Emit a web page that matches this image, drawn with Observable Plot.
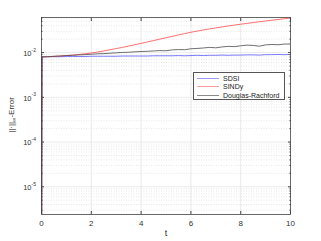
<!DOCTYPE html>
<html><head><meta charset="utf-8">
<script src="https://cdn.jsdelivr.net/npm/d3@7"></script>
<script src="https://cdn.jsdelivr.net/npm/@observablehq/plot@0.6"></script>
<style>
body{margin:0;background:#fff;font-family:"Liberation Sans",Arial,sans-serif;}
#wrap{position:relative;width:321px;height:241px;}
#legend{position:absolute;left:193px;top:72px;width:92px;height:28px;border:1px solid #555;background:#fff;font-size:7px;color:#222;box-sizing:border-box;padding-top:1px;white-space:nowrap;}
#legend div{display:flex;align-items:center;height:8.6px;}
#legend span.l{display:inline-block;width:22px;height:0;border-top:1px solid;margin:0 4px 0 3px;}
</style>
</head><body><div id="wrap"><div id="legend"></div></div>
<script>
const t = [0, 0.02, 0.25, 0.5, 0.75, 1, 1.25, 1.5, 1.75, 2, 2.25, 2.5, 2.75, 3, 3.25, 3.5, 3.75, 4, 4.25, 4.5, 4.75, 5, 5.25, 5.5, 5.75, 6, 6.25, 6.5, 6.75, 7, 7.25, 7.5, 7.75, 8, 8.25, 8.5, 8.75, 9, 9.25, 9.5, 9.75, 10];
const sdsi = [1e-8, 0.0081, 0.0081, 0.0081, 0.0081, 0.0082, 0.0082, 0.0082, 0.0082, 0.0083, 0.0083, 0.0083, 0.0083, 0.0083, 0.0084, 0.0084, 0.0084, 0.0084, 0.0084, 0.0085, 0.0085, 0.0085, 0.0085, 0.0086, 0.0085, 0.0086, 0.0087, 0.0086, 0.0087, 0.0087, 0.0088, 0.0087, 0.0088, 0.0088, 0.0089, 0.0089, 0.0088, 0.0090, 0.0090, 0.0091, 0.0090, 0.0091];
const sindy = [1e-8, 0.0080, 0.0081, 0.0082, 0.0084, 0.0086, 0.0088, 0.0091, 0.0094, 0.0098, 0.0103, 0.0109, 0.0116, 0.0123, 0.0131, 0.0140, 0.0150, 0.0161, 0.0173, 0.0186, 0.0200, 0.0215, 0.0231, 0.0248, 0.0266, 0.0285, 0.0303, 0.0321, 0.0339, 0.0357, 0.0375, 0.0394, 0.0413, 0.0432, 0.0451, 0.0470, 0.0490, 0.0510, 0.0530, 0.0550, 0.0572, 0.0595];
const dr = [1e-8, 0.0080, 0.0081, 0.0083, 0.0084, 0.0086, 0.0087, 0.0089, 0.0090, 0.0092, 0.0094, 0.0095, 0.0097, 0.0099, 0.0101, 0.0102, 0.0104, 0.0106, 0.0107, 0.0109, 0.0111, 0.0110, 0.0115, 0.0117, 0.0116, 0.0122, 0.0124, 0.0127, 0.0131, 0.0128, 0.0134, 0.0138, 0.0136, 0.0142, 0.0147, 0.0145, 0.0139, 0.0149, 0.0152, 0.0150, 0.0155, 0.0156];
const seriesNames = ["SDSI", "SINDy", "Douglas-Rachford"];
const seriesColors = ["#5b5bff", "#ff4a4a", "#4a4a4a"];
const legendColors = ["#9a9aff", "#ff9a9a", "#8a8a8a"];
const xTicks = [0, 2, 4, 6, 8, 10];
const yMajor = [1e-5, 1e-4, 1e-3, 1e-2];
const yExponents = ["-5", "-4", "-3", "-2"];

const yMinor = [];
for (let e = -6; e <= -2; e++) for (let m = 2; m <= 9; m++) { const v = m * 10 ** e; if (v > 2.4e-6 && v < 0.061) yMinor.push(v); }

const rows = [];
[sdsi, sindy, dr].forEach((arr, i) => arr.forEach((v, j) => rows.push({t: t[j], v, s: seriesNames[i]})));

const plot = Plot.plot({
  width: 321, height: 241,
  marginLeft: 41, marginRight: 31, marginTop: 17, marginBottom: 27,
  style: {fontFamily: "Liberation Sans, Arial, sans-serif", fontSize: "8px", color: "#333"},
  x: {domain: [0, 10], label: null},
  y: {type: "log", domain: [2.4e-6, 0.061], label: null},
  color: {domain: seriesNames, range: seriesColors},
  marks: [
    Plot.ruleY(yMinor, {stroke: "#d8d8d8", strokeDasharray: "1,1.5", strokeWidth: 0.6}),
    Plot.ruleY(yMajor, {stroke: "#e4e4e4", strokeWidth: 0.8}),
    Plot.ruleX(xTicks.slice(1, -1), {stroke: "#e4e4e4", strokeWidth: 0.8}),
    Plot.line(rows, {x: "t", y: "v", z: "s", stroke: "s", strokeWidth: 0.8, clip: true}),
    Plot.axisX(xTicks, {anchor: "bottom", tickSize: -3, tickPadding: 9, stroke: "#444", fill: "#333"}),
    Plot.axisX(xTicks, {anchor: "top", tickSize: -3, text: null, stroke: "#444"}),
    Plot.axisY(yMajor, {anchor: "left", tickSize: -3, text: null, stroke: "#444"}),
    Plot.axisY(yMajor, {anchor: "right", tickSize: -3, text: null, stroke: "#444"}),
    Plot.axisY(yMinor, {anchor: "left", tickSize: -1.5, text: null, stroke: "#444"}),
    Plot.axisY(yMinor, {anchor: "right", tickSize: -1.5, text: null, stroke: "#444"}),
    Plot.text(yMajor, {y: d => d, frameAnchor: "left", dx: -10, dy: 1, textAnchor: "end", text: () => "10", fill: "#333", fontSize: 7.5}),
    Plot.text(yMajor, {y: d => d, frameAnchor: "left", dx: -10, dy: -2.5, textAnchor: "start", text: (d) => yExponents[yMajor.indexOf(d)], fill: "#333", fontSize: 5}),
    Plot.frame({stroke: "#444", strokeWidth: 0.8})
  ]
});
document.getElementById("wrap").prepend(plot);

const svg = d3.select(plot);
svg.append("text").attr("x", 166).attr("y", 236).attr("text-anchor", "middle")
  .attr("font-size", 9).attr("fill", "#333").text("t");
const yl = svg.append("text").attr("transform", "translate(14,115) rotate(-90)")
  .attr("text-anchor", "middle").attr("font-size", 8).attr("fill", "#333");
yl.append("tspan").text("||·||");
yl.append("tspan").attr("font-size", 6).attr("dy", 2).text("∞");
yl.append("tspan").attr("dy", -2).text("-Error");

const lg = document.getElementById("legend");
seriesNames.forEach((n, i) => {
  const d = document.createElement("div");
  d.innerHTML = `<span class="l" style="border-color:${legendColors[i]}"></span>${n}`;
  lg.appendChild(d);
});
</script></body></html>
